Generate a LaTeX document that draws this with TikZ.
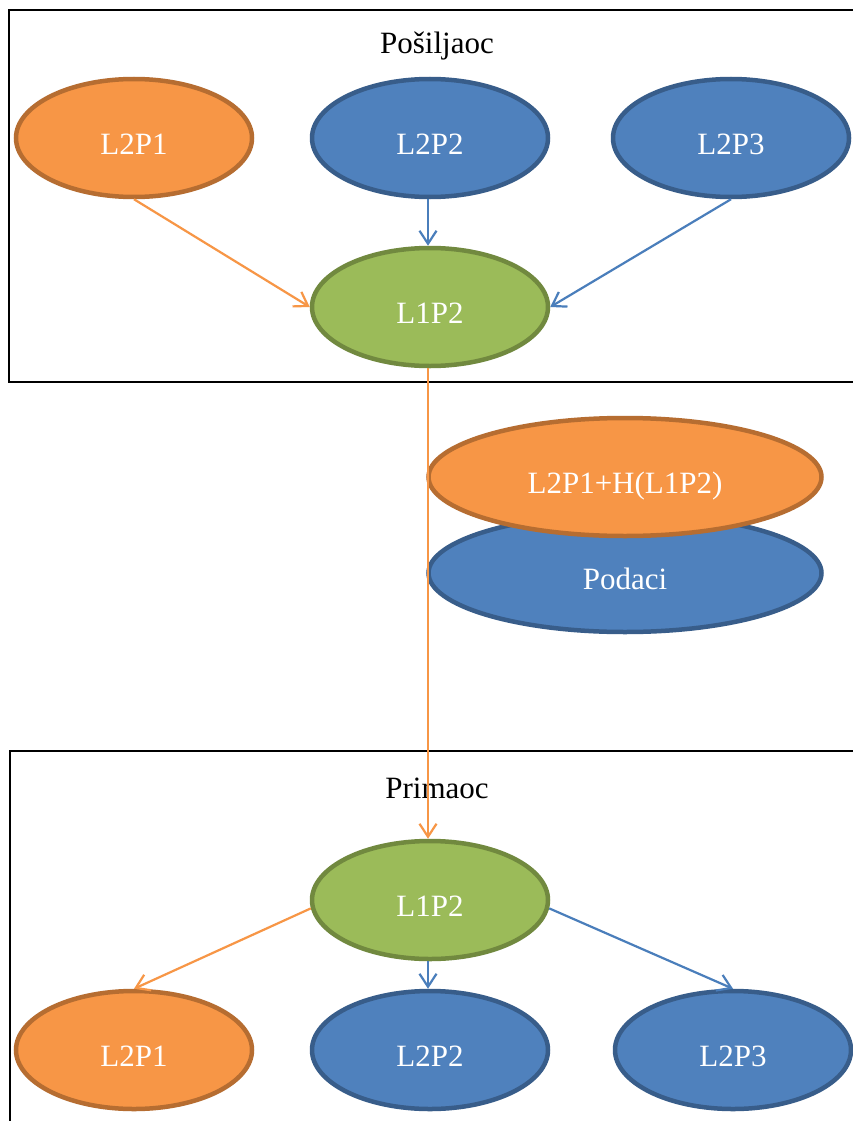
\documentclass[tikz,border=0pt]{standalone}
\usepackage{fontspec}
\setmainfont{Liberation Serif}
\usetikzlibrary{shapes.geometric,arrows.meta}
\definecolor{ofill}{HTML}{F79646}
\definecolor{oline}{HTML}{B66D31}
\definecolor{bfill}{HTML}{4F81BD}
\definecolor{bline}{HTML}{385D8A}
\definecolor{gfill}{HTML}{9BBB59}
\definecolor{gline}{HTML}{71893F}
\definecolor{oarrow}{HTML}{F79646}
\definecolor{barrow}{HTML}{4A7EBB}
\tikzset{
  ell/.style={ellipse, inner sep=0pt, minimum width=236pt, minimum height=118pt, line width=4.5pt, text=white, text height=32pt, text depth=0pt, font=\fontsize{31}{36}\selectfont},
  orangeell/.style={ell, draw=oline, fill=ofill},
  blueell/.style={ell, draw=bline, fill=bfill},
  greenell/.style={ell, draw=gline, fill=gfill},
  wideell/.style={minimum width=393pt},
  conn/.style={line width=2.2pt, -{Straight Barb[length=13pt,width=17pt,line width=2.2pt]}},
  oconn/.style={conn, draw=oarrow},
  bconn/.style={conn, draw=barrow},
  frame/.style={draw=black, line width=2pt},
  title/.style={font=\fontsize{31}{36}\selectfont, text=black, inner sep=0pt}
}
\begin{document}
\begin{tikzpicture}[x=1pt,y=-1pt]
\useasboundingbox (0,0) rectangle (853,1121);
\fill[white] (0,0) rectangle (853,1121);
% frames
\draw[frame] (9,10) rectangle (880,382);
\draw[frame] (10,751) rectangle (880,1140);
\node[title] (sender) at (437,46) {Pošiljaoc};
\node[title] (receiver) at (437,788) {Primaoc};
% sender
\node[orangeell] (s1) at (134,138) {L2P1};
\node[blueell] (s2) at (430,138) {L2P2};
\node[blueell] (s3) at (731,138) {L2P3};
\node[greenell] (sc) at (430,307) {L1P2};
% packet
\node[blueell, wideell] (data) at (625,573) {Podaci};
\node[orangeell, wideell] (hdr) at (625,477) {L2P1+H(L1P2)};
% receiver
\node[greenell] (rc) at (430,900) {L1P2};
\node[orangeell] (r1) at (134,1050) {L2P1};
\node[blueell] (r2) at (430,1050) {L2P2};
\node[blueell] (r3) at (733,1050) {L2P3};
% connectors
\draw[oconn] (s1.south) -- (sc.west);
\draw[bconn] (s2.south -| 428,0) -- (sc.north -| 428,0);
\draw[bconn] (s3.south) -- (sc.east);
\draw[oconn] (sc.south -| 428,0) -- (rc.north -| 428,0);
\draw[oconn] (rc.184) -- (r1.north);
\draw[bconn] (rc.south -| 428,0) -- (r2.north -| 428,0);
\draw[bconn] (rc.-4) -- (r3.north);
\end{tikzpicture}
\end{document}
